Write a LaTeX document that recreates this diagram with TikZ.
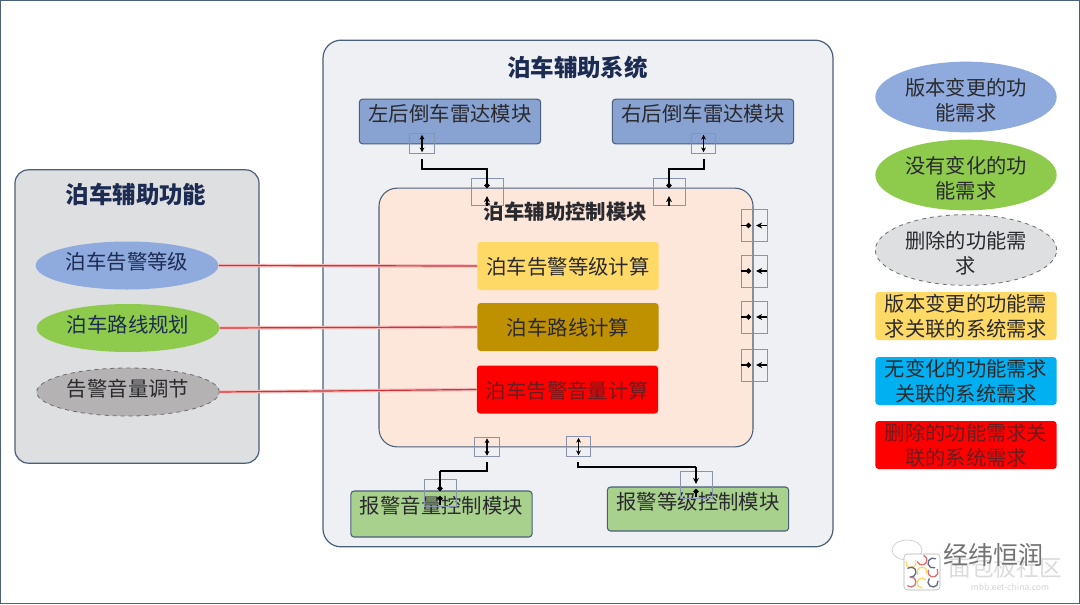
\documentclass[tikz,border=0pt]{standalone}
\usepackage{fontspec}
\setmainfont{Noto Sans CJK SC}
\usetikzlibrary{arrows.meta,shapes.geometric}
\definecolor{ink}{HTML}{2A2A2E}
\definecolor{navy}{HTML}{1C2B52}
\definecolor{edgeblue}{HTML}{4A5F7A}
\definecolor{sysfill}{HTML}{EEF0F3}
\definecolor{funcfill}{HTML}{DEDFE1}
\definecolor{ctrlfill}{HTML}{FDE6DA}
\definecolor{bluefill}{HTML}{8FAADC}
\definecolor{greenfill}{HTML}{8ECB4C}
\definecolor{greyfill}{HTML}{B4B2B3}
\definecolor{yellowfill}{HTML}{FFD966}
\definecolor{brownfill}{HTML}{BF9000}
\definecolor{cyanfill}{HTML}{00B0F0}
\definecolor{modgreen}{HTML}{A9D18E}
\definecolor{portline}{HTML}{8A93AE}
\definecolor{linkred}{HTML}{C8363A}
\definecolor{linkhalo}{HTML}{F6BDBD}
\newcommand{\liftline}{\rule{0pt}{17.5pt}}
\tikzset{
  x=0.75pt,y=-0.75pt,
  panel/.style={draw=edgeblue,line width=0.9pt,rounded corners=13.5pt,inner sep=0pt},
  module/.style={draw=edgeblue,line width=0.8pt,rounded corners=2.5pt,inner sep=0pt,font=\fontsize{15.3}{15.3}\selectfont,text=ink},
  calc/.style={rounded corners=2.5pt,inner sep=0pt,minimum width=136pt,minimum height=36pt,text height=16pt,text depth=3pt,font=\fontsize{15.3}{15.3}\selectfont,text=ink},
  func/.style={ellipse,inner sep=0pt,minimum width=137pt,minimum height=36pt,text height=12pt,text depth=5.6pt,font=\fontsize{15.3}{15.3}\selectfont,text=navy},
  legend/.style={inner sep=0pt,minimum width=136pt,align=center,font=\fontsize{15.2}{18.75}\selectfont,text=ink},
  port/.style={draw=portline,line width=0.6pt,inner sep=0pt},
  vport/.style={port,minimum width=18.5pt,minimum height=14.5pt},
  bigport/.style={port,minimum width=24pt,minimum height=20pt},
  sideport/.style={port,minimum width=19.5pt,minimum height=24pt},
  bus/.style={black,line width=1.4pt},
  dbl/.style={black,line width=0.9pt,{Stealth[length=3.6pt,width=3.6pt]}-{Stealth[length=3.6pt,width=3.6pt]},shorten <=1pt,shorten >=1pt},
  intip/.style={-{Stealth[length=4.6pt,width=4.4pt]}},
  dot/.style={-{Circle[length=3.8pt]}},
  redlink/.style={linkred,line width=0.9pt,preaction={draw=linkhalo,line width=2.6pt}},
  heading/.style={inner sep=0pt,font=\bfseries\fontsize{17.6}{17.6}\selectfont,text=navy},
  arcmark/.style={line width=1pt,line cap=round}
}
\begin{document}
\begin{tikzpicture}
\useasboundingbox (0,0) rectangle (1080,604);
\fill[white] (0,0) rectangle (1080,604);
\draw[edgeblue,line width=1.2pt] (0.5,0.5) rectangle (1079.5,603.5);

% outer panels
\node[panel,fill=sysfill,minimum width=382.5pt,minimum height=380pt] (sys) at (578,293.5) {};
\node[heading] (systitle) at (577.5,68) {泊车辅助系统};
\node[panel,fill=funcfill,minimum width=183pt,minimum height=220pt,rounded corners=10pt] (fun) at (137,316.5) {};
\node[heading] (funtitle) at (136,194) {泊车辅助功能};

% functions
\node[func,fill=bluefill] (f1) at (127,265.5) {泊车告警等级};
\node[func,fill=greenfill] (f2) at (128,328) {泊车路线规划};
\node[func,fill=greyfill,draw=ink!70,dashed,line width=0.6pt,text=ink] (f3) at (128,392) {告警音量调节};

% control module
\node[panel,fill=ctrlfill,minimum width=280.5pt,minimum height=194pt,line width=0.8pt] (ctrl) at (566,317.5) {};
\node[inner sep=0pt,font=\bfseries\fontsize{15.3}{15.3}\selectfont,text=ink] (ctrltitle) at (565.5,212) {泊车辅助控制模块};
\node[calc,fill=yellowfill] (c1) at (568,266) {泊车告警等级计算};
\node[calc,fill=brownfill] (c2) at (568,327) {泊车路线计算};
\node[calc,fill=red,text=ink!70!red] (c3) at (567.5,389.5) {泊车告警音量计算};

% requirement links
\draw[redlink] (f1.east) -- (c1.west);
\draw[redlink] (f2.east) -- (c2.west);
\draw[redlink] (f3.east) -- (c3.west);

% radar and alarm modules: text baseline set through text height and depth
\node[module,fill=bluefill!95!black,minimum width=136pt,text height=16.5pt,text depth=17pt] (rl) at (450,121.5) {左后倒车雷达模块};
\node[module,fill=bluefill!95!black,minimum width=136pt,text height=16.5pt,text depth=17pt] (rr) at (703,121.5) {右后倒车雷达模块};
\node[module,fill=modgreen,minimum width=136pt,text height=16.5pt,text depth=18pt] (al) at (441.5,514) {报警音量控制模块};
\node[module,fill=modgreen,minimum width=136pt,text height=16.5pt,text depth=16.5pt] (ar) at (698,509) {报警等级控制模块};

% interface ports on the radar modules
\node[vport] (prl) at (422,143.5) {};
\node[vport] (prr) at (703.5,143.5) {};
\draw[dbl] (prl.north) -- (prl.south);
\draw[dbl] (prr.north) -- (prr.south);

% interface ports on the top of the control module
\node[bigport] (pct1) at (487,192) {};
\node[bigport] (pct2) at (669,192) {};
\coordinate (lstub) at (422,159);
\coordinate (rstub) at (704,159);
\coordinate (lbend) at (487,169);
\coordinate (rbend) at (669,169);
\coordinate (ldot) at (487,188);
\coordinate (rdot) at (669,188);
\draw[bus,dot] (lstub) |- (lbend) -- (ldot);
\draw[bus,dot] (rstub) |- (rbend) -- (rdot);
\draw[bus,intip] (pct1.south) -- (487,196);
\draw[bus,intip] (pct2.south) -- (669,196);

% interface ports on the right of the control module
\foreach \n/\py in {s1/225.5,s2/271,s3/317,s4/365}{
  \node[sideport] (\n) at (754,\py) {};
  \draw[bus,dot] (\n.west) -- (751,\py);
  \draw[bus,intip] (\n.east) -- (756,\py);
}

% interface ports on the bottom of the control module
\node[vport] (pb1) at (487,447) {};
\node[vport] (pb2) at (578.5,446.5) {};
\draw[dbl] (pb1.north) -- (pb1.south);
\draw[dbl] (pb2.north) -- (pb2.south);
\node[bigport] (pal) at (440.5,493) {};
\node[bigport] (par) at (696.5,485) {};
\coordinate (bstub1) at (487,462);
\coordinate (bstub2) at (578,462);
\coordinate (bbend1) at (440,471);
\coordinate (bbend2) at (696,467);
\coordinate (bdot1) at (440,491);
\coordinate (bdot2) at (696,484);
\draw[bus] (bstub1) |- (bbend1);
\draw[bus,dot] (bbend1) -- (bdot1);
\draw[bus] (bstub2) |- (bbend2);
\draw[bus,intip] (bbend2) -- (bdot2);
\draw[bus,dot] (440,505) -- (440,496);
\draw[bus,dot] (696,497) -- (696,489);

% legend
\node[legend,ellipse,fill=bluefill,minimum height=45pt] (l1) at (966,97) {\liftline 版本变更的功\\能需求};
\node[legend,ellipse,fill=greenfill,minimum height=45pt] (l2) at (966,175) {\liftline 没有变化的功\\能需求};
\node[legend,ellipse,fill=funcfill,draw=ink!70,dashed,line width=0.6pt,minimum height=41pt] (l3) at (966,250) {\liftline 删除的功能需\\求};
\node[legend,fill=yellowfill,rounded corners=2.5pt,minimum height=36pt] (l4) at (966,316) {版本变更的功能需\\求关联的系统需求};
\node[legend,fill=cyanfill,rounded corners=2.5pt,minimum height=36pt] (l5) at (966,381) {无变化的功能需求\\关联的系统需求};
\node[legend,fill=red,text=ink!70!red,rounded corners=2.5pt,minimum height=36pt] (l6) at (966,445) {删除的功能需求关\\联的系统需求};

% publisher mark and site mark at the lower right
\node[inner sep=0pt,font=\fontsize{17}{17}\selectfont,text=black!14] (site) at (1005,568) {面包板社区};
\node[inner sep=0pt,font=\fontsize{6.5}{6.5}\selectfont,text=black!16] (url) at (1010,587) {mbb.eet-china.com};
\node[inner sep=0pt,font=\fontsize{18.75}{18.75}\selectfont,text=black!55] (brand) at (993,555) {经纬恒润};
\draw[black!20,line width=0.5pt] (907,550) ellipse [x radius=15,y radius=10];
\node[draw=black!30,fill=white,rounded corners=2.5pt,minimum size=27pt,inner sep=0pt] (logo) at (922,572) {};
\foreach \cx/\cy/\col/\sa in {911/563/yellowfill/200,922/560/linkred!70/160,933/563/navy!70/300,911/572/navy!70/100,922/572/yellowfill/20,933/572/linkred!70/200,911/582/linkred!70/130,922/583/yellowfill/320,933/582/navy!70/220}{
  \draw[\col,arcmark] (\cx,\cy) ++(\sa:5) arc [start angle=\sa,delta angle=-230,radius=5];
}
\end{tikzpicture}
\end{document}
